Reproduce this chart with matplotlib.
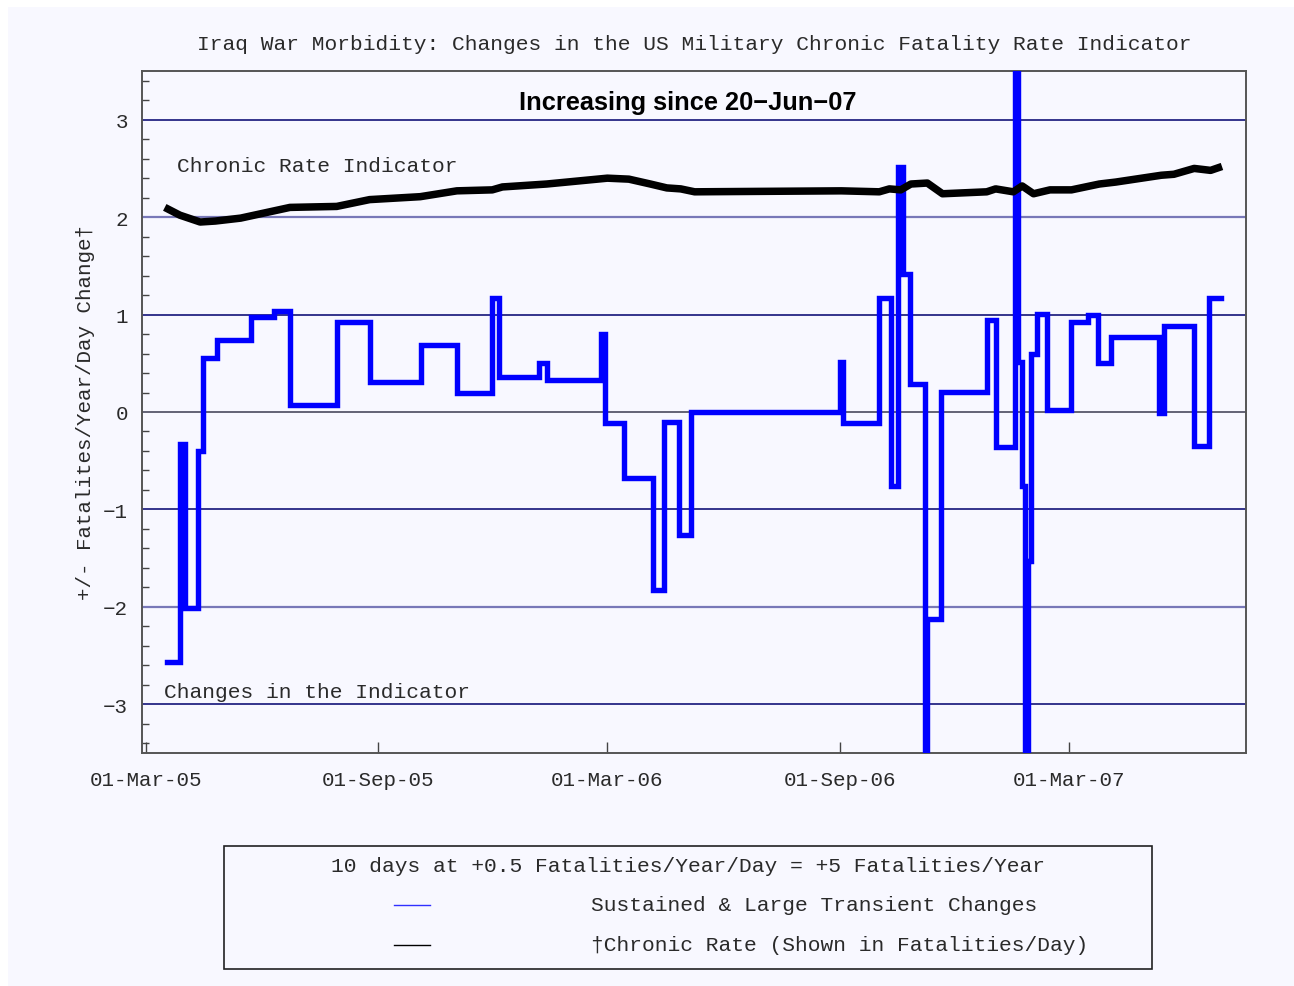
import numpy as np
import pandas as pd
import matplotlib
matplotlib.use("Agg")
import matplotlib.pyplot as plt
import matplotlib.dates as mdates
from matplotlib.patches import Rectangle
from matplotlib.lines import Line2D

# Sustained & large transient changes (step series, value holds until next date)
change_dates = [
    "2005-03-18", "2005-03-28", "2005-04-01", "2005-04-11", "2005-04-15",
    "2005-04-26", "2005-05-23", "2005-06-10", "2005-06-23", "2005-07-30",
    "2005-08-25", "2005-10-05", "2005-11-02", "2005-11-30", "2005-12-05",
    "2006-01-06", "2006-01-12", "2006-02-24", "2006-02-27", "2006-03-14",
    "2006-04-06", "2006-04-15", "2006-04-27", "2006-05-06", "2006-09-01",
    "2006-09-03", "2006-10-02", "2006-10-11", "2006-10-17", "2006-10-21",
    "2006-10-26", "2006-11-07", "2006-11-09", "2006-11-20", "2006-12-26",
    "2007-01-02", "2007-01-17", "2007-01-20", "2007-01-23", "2007-01-25",
    "2007-01-28", "2007-01-30", "2007-02-04", "2007-02-12", "2007-03-03",
    "2007-03-16", "2007-03-24", "2007-04-03", "2007-05-11", "2007-05-15",
    "2007-06-08", "2007-06-20", "2007-06-29",
]
change_values = [
    -2.57, -0.33, -2.01, -0.40, 0.55,
    0.74, 0.97, 1.04, 0.07, 0.92,
    0.31, 0.69, 0.19, 1.17, 0.36,
    0.50, 0.33, 0.80, -0.11, -0.68,
    -1.83, -0.10, -1.26, 0.00, 0.51,
    -0.11, 1.17, -0.76, 2.51, 1.42,
    0.29, -4.50, -2.12, 0.21, 0.94,
    -0.36, 4.50, 0.51, -0.76, -4.50,
    -1.53, 0.60, 1.01, 0.02, 0.92,
    1.00, 0.50, 0.77, -0.01, 0.88,
    -0.35, 1.17, 1.17,
]

# Chronic rate indicator (fatalities/day)
chronic_dates = [
    "2005-03-16", "2005-03-28", "2005-04-13", "2005-04-25", "2005-05-15",
    "2005-06-23", "2005-07-30", "2005-08-25", "2005-10-04", "2005-11-02",
    "2005-11-30", "2005-12-08", "2006-01-12", "2006-03-01", "2006-03-18",
    "2006-04-04", "2006-04-17", "2006-04-28", "2006-05-09", "2006-09-02",
    "2006-10-02", "2006-10-10", "2006-10-19", "2006-10-27", "2006-11-09",
    "2006-11-21", "2006-12-26", "2007-01-02", "2007-01-16", "2007-01-23",
    "2007-02-01", "2007-02-14", "2007-03-03", "2007-03-25", "2007-04-07",
    "2007-05-13", "2007-05-23", "2007-06-08", "2007-06-21", "2007-06-30",
]
chronic_values = [
    2.10, 2.02, 1.95, 1.96, 1.99,
    2.10, 2.11, 2.18, 2.21, 2.27,
    2.28, 2.31, 2.34, 2.40, 2.39,
    2.34, 2.30, 2.29, 2.26, 2.27,
    2.26, 2.29, 2.28, 2.34, 2.35,
    2.24, 2.26, 2.29, 2.26, 2.32,
    2.24, 2.28, 2.28, 2.34, 2.36,
    2.43, 2.44, 2.50, 2.48, 2.52,
]

x_ticks = ["2005-03-01", "2005-09-01", "2006-03-01", "2006-09-01", "2007-03-01"]
y_ticks = [-3, -2, -1, 0, 1, 2, 3]

MONO = ["Liberation Mono", "DejaVu Sans Mono"]
TXT = "#2a2a2a"
BG = "#f8f8ff"
FS = 15.3

W, H = 1294, 987
fig = plt.figure(figsize=(W / 100, H / 100), dpi=100, facecolor="white")
fig.patches.append(Rectangle((8 / W, 0), 1 - 8 / W, 1 - 8 / H,
                             transform=fig.transFigure, facecolor=BG,
                             edgecolor="none", zorder=-10))

ax = fig.add_axes([142 / W, 1 - 754 / H, (1246 - 142) / W, (754 - 72) / H])
ax.set_facecolor(BG)

# horizontal reference lines
grid_colors = {3: "#00006e", 2: "#7878b8", 1: "#00006e", 0: "#3a3a50",
               -1: "#00006e", -2: "#7878b8", -3: "#00006e"}
for yv in y_ticks:
    ax.axhline(yv, color=grid_colors[yv], lw=1.1 if yv not in (2, -2) else 1.6, zorder=1)

cd = pd.to_datetime(change_dates)
ax.step(cd, change_values, where="post", color="#0000ff", lw=3.9, zorder=3,
        solid_joinstyle="miter")

hd = pd.to_datetime(chronic_dates)
ax.plot(hd, chronic_values, color="black", lw=5.4, zorder=4, solid_capstyle="butt")

ax.set_xlim(pd.Timestamp("2005-02-26"), pd.Timestamp("2007-07-19"))
ax.set_ylim(-3.5, 3.5)

ax.set_xticks(pd.to_datetime(x_ticks))
ax.xaxis.set_major_formatter(mdates.DateFormatter("%d-%b-%y"))
ax.set_yticks(y_ticks)
ax.set_yticks(np.arange(-3.4, 3.5, 0.2), minor=True)
ax.tick_params(axis="x", direction="in", length=8, width=1, color="#444444",
               pad=12, labelsize=15, labelcolor=TXT)
ax.tick_params(axis="y", which="major", direction="in", length=0, pad=10,
               labelsize=15, labelcolor=TXT)
ax.tick_params(axis="y", which="minor", direction="in", length=5, width=1,
               color="#444444")
for lab in ax.get_xticklabels() + ax.get_yticklabels():
    lab.set_family(MONO)
ax.set_yticklabels(["\u22123", "\u22122", "\u22121", "0", "1", "2", "3"], family=MONO)

for s in ax.spines.values():
    s.set_color("#555555")
    s.set_linewidth(1.4)

ax.set_ylabel("+/- Fatalites/Year/Day Change\u2020", family=MONO, fontsize=15,
              color=TXT, labelpad=6)

fig.text(694 / W, 1 - 45 / H,
         "Iraq War Morbidity: Changes in the US Military Chronic Fatality Rate Indicator",
         ha="center", va="center", family=MONO, fontsize=FS, color=TXT)

ax.text(0.4946, 0.9545, "Increasing since 20\u2212Jun\u221207", transform=ax.transAxes,
        ha="center", va="center", fontsize=18.3, fontweight="bold",
        family=["Liberation Sans", "DejaVu Sans"], color="black", zorder=5)
ax.text(0.0317, 0.862, "Chronic Rate Indicator", transform=ax.transAxes,
        ha="left", va="center", family=MONO, fontsize=FS, color=TXT)
ax.text(0.0199, 0.0909, "Changes in the Indicator", transform=ax.transAxes,
        ha="left", va="center", family=MONO, fontsize=FS, color=TXT)

# legend box
fig.patches.append(Rectangle((224 / W, 1 - 970 / H), (1152 - 224) / W, (970 - 847) / H,
                             transform=fig.transFigure, facecolor=BG,
                             edgecolor="#222222", lw=1.2, zorder=1))
fig.text(688 / W, 1 - 867 / H,
         "10 days at +0.5 Fatalities/Year/Day = +5 Fatalities/Year",
         ha="center", va="center", family=MONO, fontsize=FS, color=TXT)
fig.add_artist(Line2D([394 / W, 430 / W], [1 - 906 / H] * 2, color="#3030ff", lw=1,
                      transform=fig.transFigure))
fig.add_artist(Line2D([394 / W, 430 / W], [1 - 946 / H] * 2, color="black", lw=1,
                      transform=fig.transFigure))
fig.text(591 / W, 1 - 906 / H, "Sustained & Large Transient Changes",
         ha="left", va="center", family=MONO, fontsize=FS, color=TXT)
fig.text(591 / W, 1 - 946 / H, "\u2020Chronic Rate (Shown in Fatalities/Day)",
         ha="left", va="center", family=MONO, fontsize=FS, color=TXT)

fig.savefig("out.png", dpi=100, facecolor=fig.get_facecolor())
